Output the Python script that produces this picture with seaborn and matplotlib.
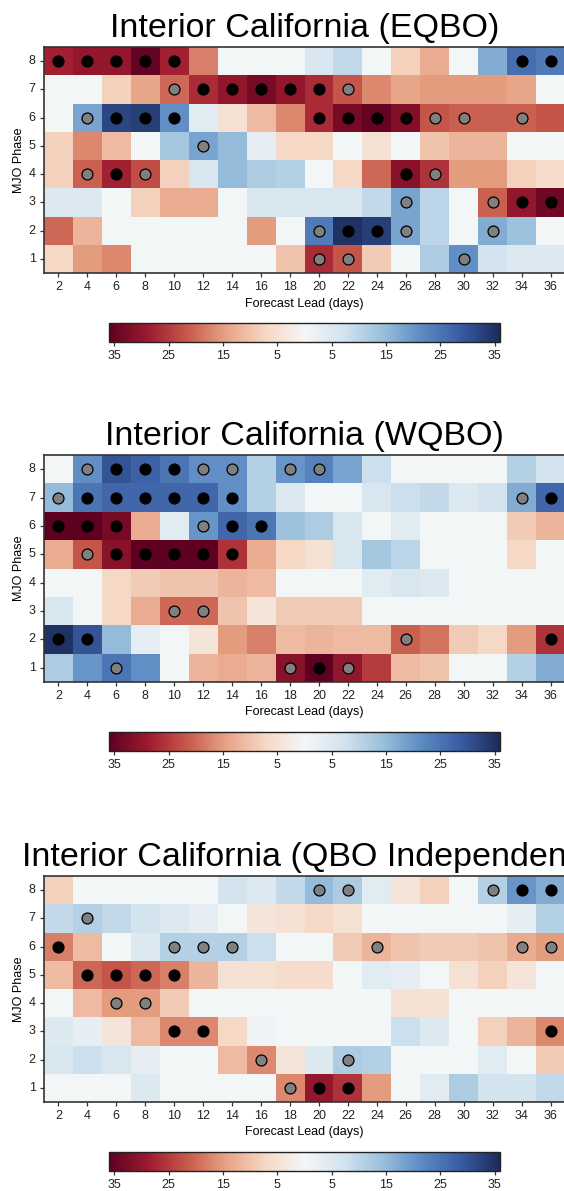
import numpy as np
import pandas as pd
import matplotlib
matplotlib.use("Agg")
import matplotlib.pyplot as plt
from matplotlib.colors import LinearSegmentedColormap
import seaborn as sns

plt.rcParams["font.family"] = ["Liberation Sans", "DejaVu Sans"]

# Forecast leads (columns) and MJO phases (rows, top to bottom)
leads = list(range(2, 38, 2))
phases = [8, 7, 6, 5, 4, 3, 2, 1]

titles = [
    "Interior California (EQBO)",
    "Interior California (WQBO)",
    "Interior California (QBO Independent)",
]

# Percent change values, rows ordered phase 8 -> phase 1
eqbo_vals = [
    [-28, -30, -30, -35, -28, -18, 0, 0, 0, 6, 9, 0, -8, -13, 0, 17, 26, 24],
    [0, 0, -8, -14, -20, -27, -30, -33, -30, -27, -22, -17, -14, -15, -15, -15, -14, 0],
    [0, 18, 32, 33, 21, 4, -5, -11, -17, -27, -33, -35, -32, -22, -21, -21, -21, -22],
    [-8, -17, -11, 0, 13, 18, 15, 3, -7, -7, 0, -5, 0, -10, -12, -12, 0, 0],
    [-8, -21, -28, -23, -8, 6, 15, 12, 11, 0, -7, -20, -31, -26, -15, -15, -8, -6],
    [5, 5, 0, -8, -13, -13, 0, 6, 6, 6, 6, 9, 18, 10, 0, -21, -30, -34],
    [-20, -12, 0, 0, 0, 0, 0, -15, 0, 24, 35, 33, 18, 10, 0, 17, 14, 0],
    [-7, -15, -17, 0, 0, 0, 0, 0, -10, -27, -22, -9, 0, 12, 21, 7, 5, 5],
]
wqbo_vals = [
    [0, 21, 30, 28, 25, 21, 21, 11, 20, 23, 18, 8, 0, 0, 0, 0, 11, 7],
    [15, 25, 27, 27, 27, 27, 21, 11, 5, 0, 0, 6, 8, 9, 5, 7, 17, 27],
    [-36, -36, -33, -13, 4, 20, 27, 25, 14, 12, 6, 0, 4, 0, 0, 0, -9, -12],
    [-13, -22, -31, -36, -36, -36, -26, -13, -7, -5, 6, 13, 10, 0, 0, 0, -7, 0],
    [0, 0, -7, -9, -10, -10, -12, -11, 0, 0, 0, 4, 6, 5, 0, 0, 0, 0],
    [6, 0, -7, -13, -20, -20, -10, -4, -9, -9, -9, 0, 0, 0, 0, 0, 0, 0],
    [35, 30, 15, 3, 0, -4, -15, -18, -11, -12, -11, -11, -21, -19, -9, -7, -15, -26],
    [12, 20, 25, 21, 0, -12, -13, -12, -31, -36, -30, -25, -11, -10, 0, 0, 11, 17],
]
indep_vals = [
    [-8, 0, 0, 0, 0, 0, 7, 5, 9, 15, 12, 4, -4, -8, 0, 11, 20, 17],
    [9, 11, 9, 7, 5, 3, 0, -4, -5, -7, -5, 0, 0, 0, 0, 0, 3, 11],
    [-18, -11, 0, 5, 11, 11, 11, 8, 0, 0, -9, -12, -10, -9, -9, -10, -13, -15],
    [-11, -20, -22, -20, -18, -12, -5, -5, -6, -6, 0, 4, 3, 0, -5, -8, -4, 0],
    [0, -11, -15, -15, -9, 0, 0, 0, 0, 0, 0, 0, -5, -5, 0, 0, 0, 0],
    [5, 3, -4, -11, -17, -17, -7, 1, 0, 0, 0, 0, 8, 5, 0, -8, -12, -17],
    [6, 8, 6, 3, 0, 0, -11, -17, -4, 5, 12, 11, 0, 0, 0, 4, 0, -9],
    [0, 0, 0, 5, 0, 0, 0, 0, -17, -30, -26, -15, 0, 4, 12, 7, 7, 9],
]

# Significance: 0 = not significant, 1 = significant (gray), 2 = field significant (black)
eqbo_sig = [
    [2, 2, 2, 2, 2, 0, 0, 0, 0, 0, 0, 0, 0, 0, 0, 0, 2, 2],
    [0, 0, 0, 0, 1, 2, 2, 2, 2, 2, 1, 0, 0, 0, 0, 0, 0, 0],
    [0, 1, 2, 2, 2, 0, 0, 0, 0, 2, 2, 2, 2, 1, 1, 0, 1, 0],
    [0, 0, 0, 0, 0, 1, 0, 0, 0, 0, 0, 0, 0, 0, 0, 0, 0, 0],
    [0, 1, 2, 1, 0, 0, 0, 0, 0, 0, 0, 0, 2, 1, 0, 0, 0, 0],
    [0, 0, 0, 0, 0, 0, 0, 0, 0, 0, 0, 0, 1, 0, 0, 1, 2, 2],
    [0, 0, 0, 0, 0, 0, 0, 0, 0, 1, 2, 2, 1, 0, 0, 1, 0, 0],
    [0, 0, 0, 0, 0, 0, 0, 0, 0, 1, 1, 0, 0, 0, 1, 0, 0, 0],
]
wqbo_sig = [
    [0, 1, 2, 2, 2, 1, 1, 0, 1, 1, 0, 0, 0, 0, 0, 0, 0, 0],
    [1, 2, 2, 2, 2, 2, 2, 0, 0, 0, 0, 0, 0, 0, 0, 0, 1, 2],
    [2, 2, 2, 0, 0, 1, 2, 2, 0, 0, 0, 0, 0, 0, 0, 0, 0, 0],
    [0, 1, 2, 2, 2, 2, 2, 0, 0, 0, 0, 0, 0, 0, 0, 0, 0, 0],
    [0, 0, 0, 0, 0, 0, 0, 0, 0, 0, 0, 0, 0, 0, 0, 0, 0, 0],
    [0, 0, 0, 0, 1, 1, 0, 0, 0, 0, 0, 0, 0, 0, 0, 0, 0, 0],
    [2, 2, 0, 0, 0, 0, 0, 0, 0, 0, 0, 0, 1, 0, 0, 0, 0, 2],
    [0, 0, 1, 0, 0, 0, 0, 0, 1, 2, 1, 0, 0, 0, 0, 0, 0, 0],
]
indep_sig = [
    [0, 0, 0, 0, 0, 0, 0, 0, 0, 1, 1, 0, 0, 0, 0, 1, 2, 2],
    [0, 1, 0, 0, 0, 0, 0, 0, 0, 0, 0, 0, 0, 0, 0, 0, 0, 0],
    [2, 0, 0, 0, 1, 1, 1, 0, 0, 0, 0, 1, 0, 0, 0, 0, 1, 1],
    [0, 2, 2, 2, 2, 0, 0, 0, 0, 0, 0, 0, 0, 0, 0, 0, 0, 0],
    [0, 0, 1, 1, 0, 0, 0, 0, 0, 0, 0, 0, 0, 0, 0, 0, 0, 0],
    [0, 0, 0, 0, 2, 2, 0, 0, 0, 0, 0, 0, 0, 0, 0, 0, 0, 2],
    [0, 0, 0, 0, 0, 0, 0, 1, 0, 0, 1, 0, 0, 0, 0, 0, 0, 0],
    [0, 0, 0, 0, 0, 0, 0, 0, 1, 2, 2, 0, 0, 0, 0, 0, 0, 0],
]

cbar_ticks = [-35, -25, -15, -5, 5, 15, 25, 35]
cbar_labels = ["35", "25", "15", "5", "5", "15", "25", "35"]

# Red-white-blue diverging map with a slightly indigo blue half
div_colors = ["#5e0120", "#9d1b2f", "#c85a4b", "#e7a385", "#f6d7c5", "#f4f6f6",
              "#d3e3ef", "#9ac0dc", "#5c8bc3", "#3a5ca3", "#1b2c5b"]
div_cmap = LinearSegmentedColormap.from_list("rdbu_soft", div_colors)

panels = [
    (titles[0], eqbo_vals, eqbo_sig),
    (titles[1], wqbo_vals, wqbo_sig),
    (titles[2], indep_vals, indep_sig),
]

W, H = 564, 1191
fig = plt.figure(figsize=(W / 100, H / 100), dpi=100)

# pixel layout: (heatmap top, heatmap bottom)
heat_rows = [(47, 273), (455, 682), (876, 1102)]
ax_left, ax_right = 44, 565
cb_left, cb_right = 109, 500
spine_col = "#333333"

for (title, vals, sig), (top, bot) in zip(panels, heat_rows):
    ax = fig.add_axes([ax_left / W, (H - bot) / H, (ax_right - ax_left) / W, (bot - top) / H])
    cb_top = bot + 50
    cax = fig.add_axes([cb_left / W, (H - cb_top - 19) / H, (cb_right - cb_left) / W, 19 / H])

    df = pd.DataFrame(vals, index=phases, columns=leads)
    sns.heatmap(df, ax=ax, cmap=div_cmap, vmin=-36, vmax=36, cbar_ax=cax,
                cbar_kws={"orientation": "horizontal"}, linewidths=0)

    sig_arr = np.array(sig)
    for level, color in [(1, "#808080"), (2, "black")]:
        r, c = np.nonzero(sig_arr == level)
        ax.scatter(c + 0.5, r + 0.5, s=62, c=color, edgecolors="black",
                   linewidths=0.9, zorder=3)

    for side in ["left", "bottom", "top", "right"]:
        ax.spines[side].set_visible(True)
        ax.spines[side].set_color(spine_col)
        ax.spines[side].set_linewidth(1.2)

    ax.set_title(title, fontsize=24.5, pad=7)
    ax.set_xlabel("Forecast Lead (days)", fontsize=9, labelpad=3)
    ax.set_ylabel("MJO Phase", fontsize=9, labelpad=3)
    ax.tick_params(axis="both", labelsize=9, length=3, width=0.9,
                   color=spine_col, labelcolor="#222222", pad=3)
    ax.set_yticklabels(phases, rotation=0)
    ax.set_xticklabels(leads, rotation=0)

    cbar = ax.collections[0].colorbar
    cbar.set_ticks(cbar_ticks)
    cbar.set_ticklabels(cbar_labels)
    cbar.ax.tick_params(labelsize=9, length=3, width=0.9, color=spine_col,
                        labelcolor="#222222", pad=3)
    cbar.outline.set_edgecolor("#222222")
    cbar.outline.set_linewidth(1.0)

fig.savefig("out.png", dpi=100)
